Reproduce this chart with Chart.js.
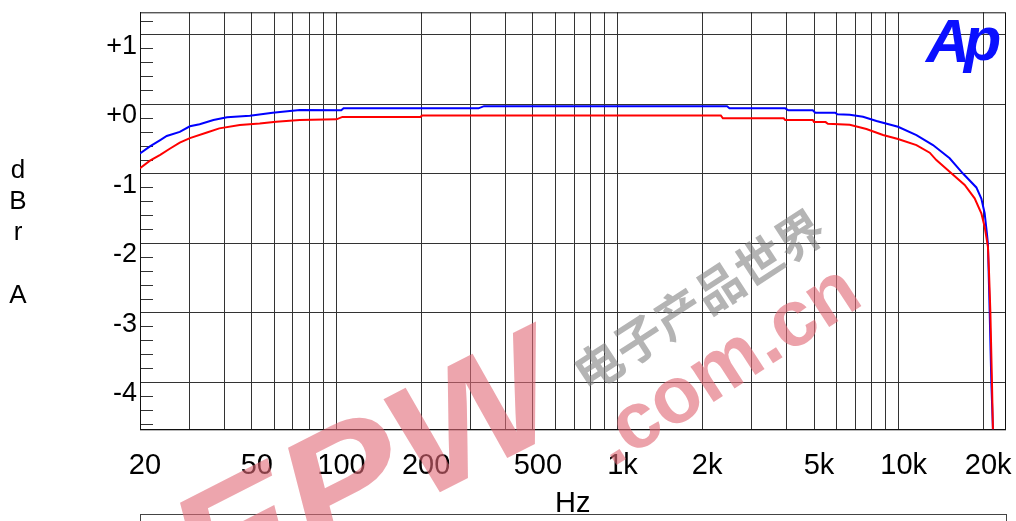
<!DOCTYPE html>
<html><head><meta charset="utf-8">
<script src="https://cdn.jsdelivr.net/npm/chart.js@4.4.0/dist/chart.umd.min.js"></script>
<style>html,body{margin:0;padding:0;background:#fff;overflow:hidden}#wrap{width:1016px;height:521px;position:relative}</style>
</head><body><div id="wrap"><canvas id="c"></canvas></div>
<script>
// ---- data ----
const blueFreq = [20, 21.7, 23.6, 24.9, 27.7, 30.1, 32.6, 36.5, 40.8, 49.2, 59.3, 74, 104, 106, 320, 335, 2450, 2500, 3950, 4050, 4950, 5050, 5950, 6050, 6700, 7470, 8340, 9950, 11570, 13250, 15190, 16940, 18900, 19690, 20230, 20610, 20780, 21080, 21370, 21650, 21800];
const blueDb   = [-0.71, -0.61, -0.52, -0.46, -0.40, -0.32, -0.29, -0.23, -0.19, -0.17, -0.125, -0.086, -0.09, -0.062, -0.062, -0.03, -0.03, -0.062, -0.062, -0.09, -0.09, -0.125, -0.125, -0.148, -0.154, -0.183, -0.245, -0.327, -0.446, -0.59, -0.78, -1.0, -1.2, -1.36, -1.57, -1.86, -2.01, -2.99, -4.0, -4.67, -5.1];
const redFreq  = [20, 21.7, 23.6, 25.6, 27.7, 30.1, 34.6, 38.3, 45.3, 53.3, 61, 74, 100, 105, 199, 202, 2330, 2370, 3900, 3950, 4950, 5000, 5500, 5600, 6700, 7680, 8800, 9950, 11570, 12900, 13620, 15190, 17180, 18640, 19690, 20230, 20780, 20960, 21200, 21480, 21650, 21800];
const redDb    = [-0.925, -0.815, -0.73, -0.64, -0.555, -0.49, -0.41, -0.35, -0.30, -0.28, -0.255, -0.23, -0.22, -0.185, -0.185, -0.165, -0.165, -0.205, -0.205, -0.23, -0.23, -0.26, -0.26, -0.283, -0.298, -0.36, -0.446, -0.504, -0.59, -0.70, -0.806, -0.974, -1.165, -1.357, -1.573, -1.765, -2.05, -2.4, -2.99, -4.0, -4.67, -5.1];
const xGridValues = [20,30,40,50,60,70,80,90,100,200,300,400,500,600,700,800,900,1000,2000,3000,4000,5000,6000,7000,8000,9000,10000,20000];
const xLabelValues = [20,50,100,200,500,1000,2000,5000,10000,20000];
const xLabelTexts  = ['20','50','100','200','500','1k','2k','5k','10k','20k'];
const yTickValues = [1,0,-1,-2,-3,-4];
const yTickLabels = ['+1','+0','-1','-2','-3','-4'];
const yAxisLetters = ['d','B','r','','A'];
const xTitle = 'Hz';
const logoText = 'Ap';
const wmLatin1 = 'EPW';
const wmLatin2 = '.com.cn';
const wmCJK = '电子产品世界';

const FONT = "'Liberation Sans', Arial, sans-serif";

const noPad = s => { s.paddingTop = 0; s.paddingBottom = 0; s.paddingLeft = 0; s.paddingRight = 0; };

const decor = {
  id: 'decor',
  beforeDatasetsDraw(chart) {
    const {ctx, chartArea: a, scales} = chart;
    const y = scales.y;
    ctx.save();
    ctx.strokeStyle = '#333';
    ctx.lineWidth = 1;
    for (let k = -23; k <= 6; k++) {
      if (k % 5 === 0) continue;
      const v = k * 0.2;
      const py = Math.round(y.getPixelForValue(v)) + 0.5;
      ctx.beginPath(); ctx.moveTo(a.left, py); ctx.lineTo(a.left + 13, py); ctx.stroke();
    }
    ctx.strokeStyle = '#111';
    ctx.strokeRect(a.left + 0.5, a.top + 0.5, a.right - a.left - 0.5, a.bottom - a.top);
    ctx.restore();
  },
  afterDraw(chart) {
    const {ctx} = chart;
    ctx.save();
    // y axis letters
    ctx.fillStyle = '#000';
    ctx.font = '26px ' + FONT;
    ctx.textAlign = 'center';
    ctx.textBaseline = 'alphabetic';
    const bases = [178, 209, 240, 271, 303];
    yAxisLetters.forEach((t, i) => { if (t) ctx.fillText(t, 18, bases[i]); });
    // logo
    ctx.fillStyle = '#0a10ff';
    ctx.font = 'bold italic 61px ' + FONT;
    ctx.textAlign = 'left';
    ctx.fillText(logoText[0], 926, 62);
    ctx.fillText(logoText[1], 964, 60);
    // bottom box
    ctx.strokeStyle = '#444';
    ctx.lineWidth = 1;
    ctx.strokeRect(140.5, 514.5, 866, 30);
    // watermark
    ctx.save();
    ctx.translate(205, 612);
    ctx.rotate(-27 * Math.PI / 180);
    ctx.scale(1.15, 1);
    ctx.font = 'bold italic 158px ' + FONT;
    ctx.fillStyle = 'rgba(225,105,118,0.6)';
    ctx.fillText(wmLatin1, 0, 0);
    ctx.restore();
    ctx.save();
    ctx.translate(612, 468);
    ctx.rotate(-33 * Math.PI / 180);
    ctx.font = 'bold 80px ' + FONT;
    ctx.fillStyle = 'rgba(225,105,118,0.62)';
    ctx.fillText(wmLatin2, 0, 0);
    ctx.restore();
    ctx.save();
    ctx.translate(588, 394);
    ctx.rotate(-33 * Math.PI / 180);
    ctx.font = "bold 48px 'Noto Sans CJK SC', sans-serif";
    ctx.fillStyle = 'rgba(130,130,130,0.6)';
    ctx.fillText(wmCJK, 0, 0);
    ctx.restore();
    ctx.restore();
  }
};

const toPts = (f, d) => f.map((v, i) => ({x: v, y: d[i]}));

new Chart(document.getElementById('c'), {
  type: 'line',
  data: {
    datasets: [
      {data: toPts(redFreq, redDb), borderColor: '#ff0000', borderWidth: 2, pointRadius: 0, tension: 0, fill: false},
      {data: toPts(blueFreq, blueDb), borderColor: '#0000ff', borderWidth: 2, pointRadius: 0, tension: 0, fill: false}
    ]
  },
  options: {
    responsive: true,
    maintainAspectRatio: false,
    animation: false,
    layout: {padding: {top: 12.3, right: 10.5, left: 0, bottom: 0}},
    plugins: {legend: {display: false}, tooltip: {enabled: false}},
    scales: {
      x: {
        type: 'logarithmic', min: 20, max: 24000,
        afterBuildTicks: s => { s.ticks = xGridValues.map(v => ({value: v})); },
        afterFit: s => { s.height = 91.7; noPad(s); },
        ticks: {
          autoSkip: false, maxRotation: 0, minRotation: 0, labelOffset: 5, padding: 19,
          color: '#000', font: {family: FONT, size: 29},
          callback: v => { const i = xLabelValues.indexOf(v); return i >= 0 ? xLabelTexts[i] : ''; }
        },
        grid: {color: '#333', lineWidth: 1, drawTicks: false},
        border: {color: '#111', width: 1},
        title: {display: true, text: xTitle, color: '#000', font: {family: FONT, size: 29}, padding: 0}
      },
      y: {
        type: 'linear', min: -4.68, max: 1.32,
        afterBuildTicks: s => { s.ticks = yTickValues.map(v => ({value: v})); },
        afterFit: s => { s.width = 140; noPad(s); },
        ticks: {
          labelOffset: 12, padding: 3, color: '#000', font: {family: FONT, size: 27},
          callback: v => { const i = yTickValues.indexOf(v); return i >= 0 ? yTickLabels[i] : ''; }
        },
        grid: {color: '#333', lineWidth: 1, drawTicks: false},
        border: {color: '#111', width: 1}
      }
    }
  },
  plugins: [decor]
});
</script></body></html>
